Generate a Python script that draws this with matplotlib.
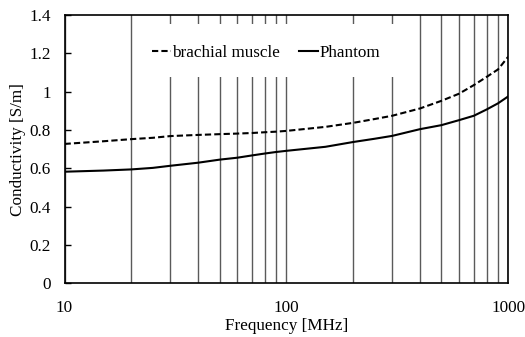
import numpy as np
import matplotlib

matplotlib.use('Agg')
import matplotlib.pyplot as plt
from matplotlib.ticker import LogLocator, NullFormatter, FixedLocator, FixedFormatter
from matplotlib.patches import Rectangle

plt.rcParams['font.family'] = ['Liberation Serif', 'DejaVu Serif']
plt.rcParams['font.size'] = 12.3

# data
freq = [10, 15, 20, 25, 30, 40, 50, 60, 70, 80, 90, 100, 150, 200, 250,
        300, 400, 500, 600, 700, 800, 900, 1000]
muscle = [0.728, 0.742, 0.753, 0.760, 0.769, 0.775, 0.779, 0.782, 0.785,
          0.789, 0.792, 0.796, 0.817, 0.838, 0.858, 0.875, 0.913, 0.953,
          0.990, 1.035, 1.078, 1.117, 1.183]
phantom = [0.583, 0.589, 0.595, 0.603, 0.614, 0.630, 0.646, 0.656, 0.668,
           0.678, 0.686, 0.692, 0.713, 0.738, 0.755, 0.770, 0.805, 0.826,
           0.852, 0.875, 0.908, 0.940, 0.976]
labels = ['brachial muscle', 'Phantom']
x_ticks = [10, 100, 1000]
x_tick_labels = ['10', '100', '1000']
y_ticks = [0, 0.2, 0.4, 0.6, 0.8, 1.0, 1.2, 1.4]
y_tick_labels = ['0', '0.2', '0.4', '0.6', '0.8', '1', '1.2', '1.4']

fig = plt.figure(figsize=(5.25, 3.37), dpi=100)
ax = fig.add_axes([0.123, 0.159, 0.845, 0.796])

ax.plot(freq, muscle, color='black', lw=1.5, linestyle=(0, (3, 1.5)),
        label=labels[0], zorder=3)
ax.plot(freq, phantom, color='black', lw=1.5, label=labels[1], zorder=3)

ax.set_xscale('log')
ax.set_xlim(10, 1000)
ax.set_ylim(0, 1.4)

ax.xaxis.set_major_locator(FixedLocator(x_ticks))
ax.xaxis.set_major_formatter(FixedFormatter(x_tick_labels))
ax.xaxis.set_minor_locator(LogLocator(base=10, subs=np.arange(2, 10)))
ax.xaxis.set_minor_formatter(NullFormatter())
ax.set_yticks(y_ticks)
ax.set_yticklabels(y_tick_labels)

ax.tick_params(axis='x', which='both', length=0, pad=12)
ax.tick_params(axis='y', direction='in', length=4, width=1, pad=10)

ax.set_axisbelow(True)
ax.grid(which='both', axis='x', color='#5a5a5a', lw=1)
ax.grid(False, axis='y')

for s in ax.spines.values():
    s.set_linewidth(1.2)
    s.set_color('black')

# white box behind legend (covers grid lines like the original)
ax.add_patch(Rectangle((0.159, 0.769), 0.597, 0.197, transform=ax.transAxes,
                       facecolor='white', edgecolor='none', zorder=1))

ax.legend(loc='center left', bbox_to_anchor=(0.197, 0.858), ncol=2,
          frameon=False, borderpad=0, borderaxespad=0, handlelength=1.1,
          handletextpad=0.1, columnspacing=1.1, fontsize=12.3)

ax.set_xlabel('Frequency [MHz]', fontsize=12.3)
ax.xaxis.label.set_va('center')
ax.xaxis.set_label_coords(0.5, -0.159)
ax.set_ylabel('Conductivity [S/m]', fontsize=12.3)
ax.yaxis.label.set_va('center')
ax.yaxis.set_label_coords(-0.106, 0.5)

plt.savefig('out.png', dpi=100, facecolor='white')
plt.close()
